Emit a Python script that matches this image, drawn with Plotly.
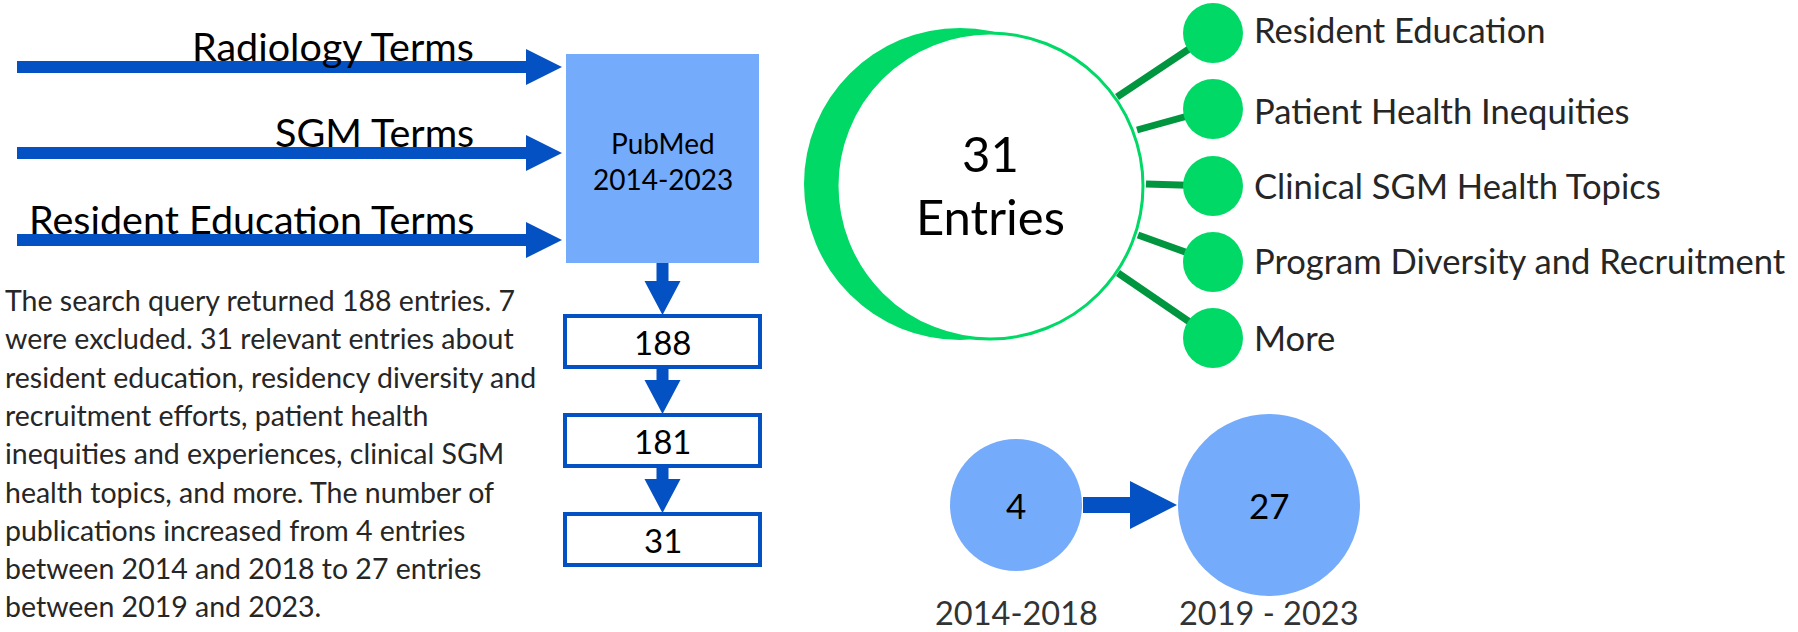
import plotly.graph_objects as go

# ---------------- data ----------------
search_terms = ["Radiology Terms", "SGM Terms", "Resident Education Terms"]
database_name = "PubMed"
database_years = "2014-2023"
funnel_counts = [188, 181, 31]
total_entries = 31
topics = ["Resident Education", "Patient Health Inequities", "Clinical SGM Health Topics",
          "Program Diversity and Recruitment", "More"]
periods = ["2014-2018", "2019 - 2023"]
period_counts = [4, 27]
summary_lines = [
    "The search query returned 188 entries. 7",
    "were excluded. 31 relevant entries about",
    "resident education, residency diversity and",
    "recruitment efforts, patient health",
    "inequities and experiences, clinical SGM",
    "health topics, and more. The number of",
    "publications increased from 4 entries",
    "between 2014 and 2018 to 27 entries",
    "between 2019 and 2023.",
]

# ---------------- style ----------------
W, H = 1798, 632
FONT = "Lato, 'Open Sans', sans-serif"
DARK_BLUE = "#0451C3"
LIGHT_BLUE = "#74ABFB"
GREEN = "#00D966"
DARK_GREEN = "#00963F"

shapes = []
annotations = []


def text(x, y, s, size, color="#000000", xanchor="center", yanchor="middle"):
    annotations.append(dict(x=x, y=y, xref="x", yref="y", text=s, showarrow=False,
                            xanchor=xanchor, yanchor=yanchor,
                            font=dict(family=FONT, size=size, color=color)))


def h_arrow(x0, x1, y, sw, hl, hh, color):
    xb = x1 - hl
    p = (f"M {x0},{y - sw / 2} L {xb},{y - sw / 2} L {xb},{y - hh} L {x1},{y} "
         f"L {xb},{y + hh} L {xb},{y + sw / 2} L {x0},{y + sw / 2} Z")
    shapes.append(dict(type="path", path=p, xref="x", yref="y",
                       fillcolor=color, line=dict(width=0)))


def v_arrow(x, y0, y1, sw, hl, hh, color):
    yb = y1 - hl
    p = (f"M {x - sw / 2},{y0} L {x - sw / 2},{yb} L {x - hh},{yb} L {x},{y1} "
         f"L {x + hh},{yb} L {x + sw / 2},{yb} L {x + sw / 2},{y0} Z")
    shapes.append(dict(type="path", path=p, xref="x", yref="y",
                       fillcolor=color, line=dict(width=0)))


def circle(cx, cy, r, fill, line_color=None, line_width=0):
    shapes.append(dict(type="circle", xref="x", yref="y", x0=cx - r, x1=cx + r,
                       y0=cy - r, y1=cy + r, fillcolor=fill,
                       line=dict(color=line_color or fill, width=line_width)))


# ---------------- left: search terms -> PubMed ----------------
box_x0, box_x1 = 566, 759
box_cx = (box_x0 + box_x1) / 2
arrow_ys = [67, 153, 240]
for term, ay in zip(search_terms, arrow_ys):
    h_arrow(17, 562, ay, 12, 36, 18, DARK_BLUE)
    text(476, ay - 22, term, 39.5, "#000000", xanchor="right")

shapes.append(dict(type="rect", xref="x", yref="y", x0=box_x0, x1=box_x1, y0=54, y1=263,
                   fillcolor=LIGHT_BLUE, line=dict(width=0)))
text(box_cx, 143, database_name, 28)
text(box_cx, 179, database_years, 28)

# funnel boxes
funnel_tops = [316, 415, 514]
box_h = 51
prev_bottom = 263
for cnt, top in zip(funnel_counts, funnel_tops):
    v_arrow(box_cx, prev_bottom, top - 1, 12, 34, 18, DARK_BLUE)
    shapes.append(dict(type="rect", xref="x", yref="y", x0=box_x0 - 1, x1=box_x1 + 1,
                       y0=top, y1=top + box_h, fillcolor="#FFFFFF",
                       line=dict(color=DARK_BLUE, width=4)))
    text(box_cx, top + box_h / 2, str(cnt), 33)
    prev_bottom = top + box_h

# summary paragraph
for i, line in enumerate(summary_lines):
    text(3, 300 + 38.3 * i, line, 28.5, "#262626", xanchor="left")

# ---------------- right: 31 entries + topics ----------------
circle(960, 184, 156, GREEN)
big_cx, big_cy, big_r = 990, 186, 153
circle(big_cx, big_cy, big_r, "#FFFFFF", GREEN, 3)
text(big_cx, 153, str(total_entries), 49)
text(big_cx, 216, "Entries", 49)

small_x, small_r = 1213, 30
small_ys = [33, 109, 186, 262, 338]
label_ys = [29, 110, 185, 260, 337]
line_starts = [(1117, 97), (1137, 130), (1146, 184), (1138, 235), (1118, 273)]
for (sx, sy), ty in zip(line_starts, small_ys):
    shapes.append(dict(type="line", xref="x", yref="y", x0=sx, y0=sy, x1=small_x, y1=ty,
                       line=dict(color=DARK_GREEN, width=7)))
for topic, ty, ly in zip(topics, small_ys, label_ys):
    circle(small_x, ty, small_r, GREEN)
    text(1252, ly, topic, 34.6, "#262626", xanchor="left")

# ---------------- bottom right: period comparison ----------------
period_cx = [1016, 1269]
period_r = [66, 91]
period_cy = 505
for cx, r, cnt, lab in zip(period_cx, period_r, period_counts, periods):
    circle(cx, period_cy, r, LIGHT_BLUE)
    text(cx, period_cy, str(cnt), 35)
    text(cx, 612, lab, 32.5, "#333333")
h_arrow(1083, 1177, period_cy, 16, 47, 24, DARK_BLUE)

fig = go.Figure()
fig.update_layout(
    width=W, height=H,
    margin=dict(l=0, r=0, t=0, b=0),
    paper_bgcolor="#FFFFFF", plot_bgcolor="#FFFFFF",
    xaxis=dict(range=[0, W], visible=False, fixedrange=True),
    yaxis=dict(range=[H, 0], visible=False, fixedrange=True),
    shapes=shapes, annotations=annotations,
    showlegend=False,
)
fig.write_html("out.html", config={"displayModeBar": False},
               post_script="document.body.style.margin='0';document.body.style.overflow='hidden';")
